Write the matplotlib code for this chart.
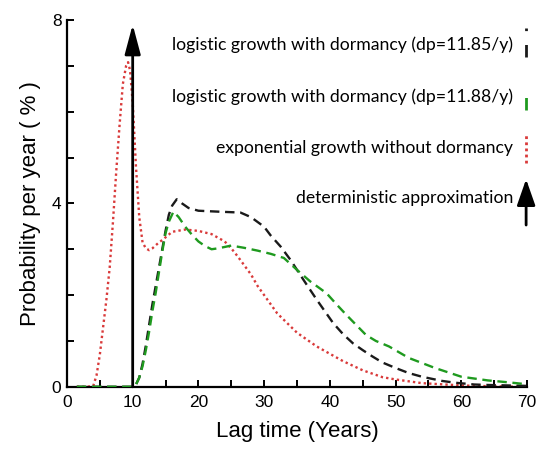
import matplotlib
matplotlib.use('Agg')
import matplotlib.pyplot as plt
from matplotlib.ticker import MultipleLocator

# lag time distributions (years, % per year)
red_x = [1.5, 3, 4, 4.5, 5, 5.5, 6, 6.5, 7, 7.5, 8, 8.5, 9, 9.3, 9.6, 10, 10.5, 11, 11.5,
         12, 12.5, 13, 14, 14.5, 16, 18, 20, 22, 24, 25, 26, 28, 29, 30, 32, 35, 38, 40,
         42, 45, 48, 50, 54, 60, 65, 70]
red_y = [0, 0, 0.02, 0.25, 0.7, 1.3, 1.9, 2.6, 3.6, 4.7, 5.7, 6.6, 7.0, 7.08, 6.9, 6.2, 4.8,
         3.7, 3.15, 3.02, 2.98, 3.02, 3.15, 3.2, 3.38, 3.43, 3.4, 3.33, 3.17, 3.02, 2.84,
         2.45, 2.2, 2.0, 1.6, 1.18, 0.88, 0.72, 0.56, 0.36, 0.21, 0.16, 0.08, 0.03, 0.01, 0.0]

black_x = [1.5, 10, 10.5, 11, 11.5, 12, 12.5, 13, 13.5, 14, 14.5, 15, 15.5, 16, 16.7, 17.5,
           18.5, 20, 23, 26.4, 28, 30, 31, 32.5, 34, 35, 36, 38, 40.5, 42, 43.5, 45, 46.5,
           48, 50, 52, 54, 57, 59, 62, 64, 67, 70]
black_y = [0, 0, 0.05, 0.2, 0.5, 0.9, 1.35, 1.8, 2.2, 2.6, 3.0, 3.4, 3.75, 3.95, 4.09, 4.0,
           3.9, 3.84, 3.82, 3.8, 3.7, 3.49, 3.3, 3.06, 2.77, 2.55, 2.33, 1.9, 1.39, 1.15,
           0.95, 0.8, 0.66, 0.53, 0.41, 0.3, 0.22, 0.13, 0.09, 0.05, 0.04, 0.03, 0.02]

green_x = [1.5, 10, 10.5, 11, 11.5, 12, 12.5, 13, 13.5, 14, 14.5, 15, 15.5, 16.2, 17, 18,
           19, 20, 21, 22, 23, 25, 27, 29, 31, 33, 34, 35, 37, 39.5, 41, 42.5, 44, 45.5,
           47, 49, 52, 56, 60, 64, 67, 69, 70]
green_y = [0, 0, 0.05, 0.2, 0.45, 0.8, 1.2, 1.65, 2.05, 2.5, 2.95, 3.35, 3.6, 3.82, 3.7,
           3.49, 3.32, 3.17, 3.07, 3.0, 3.02, 3.08, 3.03, 2.97, 2.9, 2.81, 2.68, 2.55, 2.3,
           2.04, 1.8, 1.57, 1.35, 1.13, 1.0, 0.88, 0.63, 0.41, 0.22, 0.14, 0.1, 0.07, 0.06]

labels = ['logistic growth with dormancy (dp=11.85/y)',
          'logistic growth with dormancy (dp=11.88/y)',
          'exponential growth without dormancy',
          'deterministic approximation']

black = '#1a1a1a'
green = '#1f9a1f'
red = '#d93a3a'

fig = plt.figure(figsize=(5.4, 4.54), dpi=100)
ax = fig.add_axes([0.124, 0.148, 0.852, 0.808])

ax.plot(red_x, red_y, color=red, lw=1.7, dashes=(1, 1.3), zorder=2)
ax.plot(black_x, black_y, color=black, lw=1.7, dashes=(4, 2.4), zorder=3)
ax.plot(green_x, green_y, color=green, lw=1.7, dashes=(4, 2.4), zorder=4)

# deterministic approximation: delta at 10 years
ax.annotate('', xy=(10, 7.9), xytext=(10, 0),
            arrowprops=dict(arrowstyle='-|>,head_length=0.9,head_width=0.24',
                            lw=2, color='black', shrinkA=0, shrinkB=0,
                            mutation_scale=20), zorder=5)

ax.set_xlim(0, 70)
ax.set_ylim(0, 8)
ax.spines['top'].set_visible(False)
ax.spines['right'].set_visible(False)
for s in ['left', 'bottom']:
    ax.spines[s].set_linewidth(1.6)
ax.xaxis.set_major_locator(MultipleLocator(10))
ax.xaxis.set_minor_locator(MultipleLocator(5))
ax.yaxis.set_major_locator(MultipleLocator(4))
ax.yaxis.set_minor_locator(MultipleLocator(1))
ax.tick_params(which='both', direction='in', width=1.4, labelsize=12.5,
               labelfontfamily='Liberation Sans')
ax.tick_params(which='major', length=5, pad=6)
ax.tick_params(which='minor', length=5)
ax.tick_params(axis='y', pad=4)

ax.set_xlabel('Lag time (Years)', fontsize=16, family='Liberation Sans', labelpad=8)
ax.set_ylabel('Probability per year ( % )', fontsize=16, family='Liberation Sans',
              labelpad=8)

# hand-made legend on the right
tx = 0.970
sx = 0.998
rows = [0.932, 0.790, 0.651, 0.515]
for lab, ry in zip(labels, rows):
    ax.text(tx, ry, lab, transform=ax.transAxes, ha='right', va='center',
            fontsize=12.7, family='Lato')
ax.plot([sx, sx], [0.899, 0.978], transform=ax.transAxes, color=black, lw=2,
        dashes=(4.5, 5), clip_on=False)
ax.plot([sx, sx], [0.755, 0.823], transform=ax.transAxes, color=green, lw=2,
        dashes=(4.5, 5), clip_on=False)
ax.plot([sx, sx], [0.610, 0.687], transform=ax.transAxes, color=red, lw=2,
        dashes=(1, 1.2), clip_on=False)
ax.annotate('', xy=(sx, 0.566), xytext=(sx, 0.441), xycoords='axes fraction',
            textcoords='axes fraction',
            arrowprops=dict(arrowstyle='-|>,head_length=0.8,head_width=0.28',
                            lw=2, color='black', shrinkA=0, shrinkB=0,
                            mutation_scale=20), annotation_clip=False)

fig.savefig('out.png', dpi=100)
